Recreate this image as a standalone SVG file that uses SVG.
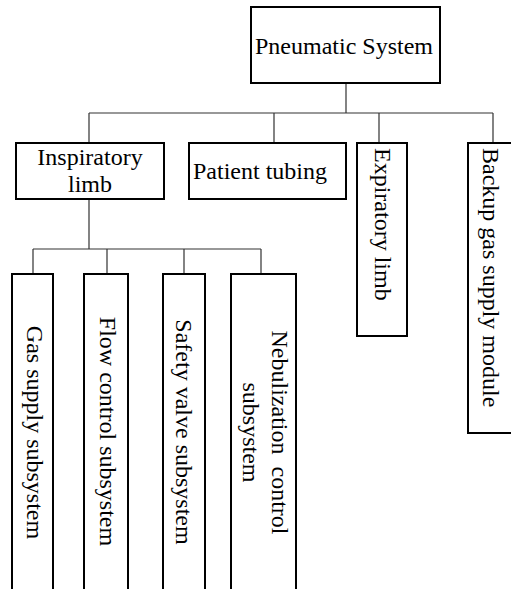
<svg xmlns="http://www.w3.org/2000/svg" width="511" height="589" viewBox="0 0 511 589">
<style>
.box{fill:#fff;stroke:#000;stroke-width:2}
.ln{stroke:#333;stroke-width:1.2;fill:none}
text{font-family:"Liberation Serif","Times New Roman",serif;font-size:24px;fill:#000}
.m{text-anchor:middle}
</style>
<rect width="511" height="589" fill="#fff"/>
<g id="connectors">
<path class="ln" d="M346 83V113M89 113H493M89 113V143M274 113V143M379 113V143M493 113V143"/>
<path class="ln" d="M89 199V249M33 249H261M33 249V274M107 249V274M184 249V274M261 249V274"/>
</g>
<g id="pneumatic">
<rect class="box" x="251" y="7" width="189" height="76"/>
<text class="m" x="344" y="54">Pneumatic System</text>
</g>
<g id="inspiratory">
<rect class="box" x="16" y="143" width="148" height="56"/>
<text class="m" x="90" y="165">Inspiratory</text>
<text class="m" x="90" y="192">limb</text>
</g>
<g id="patient">
<rect class="box" x="189" y="143" width="157" height="56"/>
<text class="m" x="260" y="179">Patient tubing</text>
</g>
<g id="expiratory">
<rect class="box" x="357" y="143" width="50" height="193"/>
<text transform="translate(375,148) rotate(90)">Expiratory limb</text>
</g>
<g id="backup">
<rect class="box" x="468" y="143" width="60" height="290"/>
<text transform="translate(483,148) rotate(90)">Backup gas supply module</text>
</g>
<g id="gas">
<rect class="box" x="12" y="274" width="41" height="330"/>
<text class="m" transform="translate(26.5,432.5) rotate(90)">Gas supply subsystem</text>
</g>
<g id="flow">
<rect class="box" x="84" y="274" width="44" height="330"/>
<text class="m" transform="translate(100,431.5) rotate(90)">Flow control subsystem</text>
</g>
<g id="safety">
<rect class="box" x="163" y="274" width="42" height="330"/>
<text class="m" transform="translate(176,432) rotate(90)">Safety valve subsystem</text>
</g>
<g id="nebulization">
<rect class="box" x="231" y="274" width="65" height="330"/>
<text class="m" transform="translate(272,432.5) rotate(90)" xml:space="preserve" style="white-space:pre">Nebulization  control</text>
<text class="m" transform="translate(243,432.5) rotate(90)">subsystem</text>
</g>
</svg>
